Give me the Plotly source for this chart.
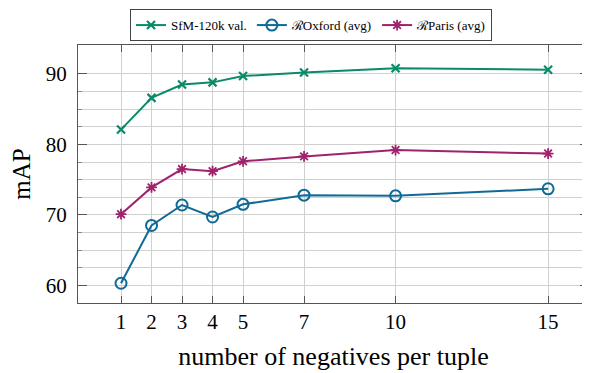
import plotly.graph_objects as go

negatives = [1, 2, 3, 4, 5, 7, 10, 15]
sfm_val = [82.1, 86.6, 88.5, 88.8, 89.7, 90.2, 90.8, 90.6]
oxford_avg = [60.3, 68.5, 71.4, 69.7, 71.5, 72.8, 72.7, 73.7]
paris_avg = [70.1, 73.9, 76.5, 76.2, 77.6, 78.3, 79.2, 78.7]

series_names = ["SfM-120k val.", "\u211bOxford (avg)", "\u211bParis (avg)"]
y_major = [60, 70, 80, 90]
y_minor = [57.5, 62.5, 65, 67.5, 72.5, 75, 77.5, 82.5, 85, 87.5]

green = "#0a8a6a"
blue = "#0f6a96"
magenta = "#a0226c"
serif = "Liberation Serif"

fig = go.Figure()
fig.add_trace(go.Scatter(x=negatives, y=sfm_val, name=series_names[0], mode="lines+markers",
                         line=dict(color=green, width=2),
                         marker=dict(symbol="x-thin-open", size=8, line=dict(color=green, width=2.2))))
fig.add_trace(go.Scatter(x=negatives, y=oxford_avg, name=series_names[1], mode="lines+markers",
                         line=dict(color=blue, width=2),
                         marker=dict(symbol="circle-open", size=11, line=dict(color=blue, width=2))))
fig.add_trace(go.Scatter(x=negatives, y=paris_avg, name=series_names[2], mode="lines+markers",
                         line=dict(color=magenta, width=2),
                         marker=dict(symbol="asterisk-open", size=9, line=dict(color=magenta, width=1.8))))

grid_c = "#d0d0d0"
axis_c = "#555555"
fig.update_layout(
    width=590, height=373,
    margin=dict(l=70, r=9, t=37, b=78, autoexpand=False),
    paper_bgcolor="white", plot_bgcolor="white",
    font=dict(family=serif, color="black"),
    showlegend=True,
    legend=dict(orientation="h", x=0.456, y=0.997, yref="container",
                xanchor="center", yanchor="top",
                font=dict(size=13, family=serif, color="black"),
                bordercolor="#444444", borderwidth=1, bgcolor="white",
                itemwidth=30, tracegroupgap=0),
    xaxis=dict(range=[-0.41, 16.34], tickvals=negatives, ticktext=[str(v) for v in negatives],
               showgrid=True, gridcolor=grid_c, gridwidth=1, automargin=False,
               showline=True, linecolor=axis_c, linewidth=1.3, mirror="ticks",
               ticks="inside", ticklen=7, tickcolor=axis_c, tickwidth=1,
               tickfont=dict(size=21, family=serif, color="black"), zeroline=False,
               title=dict(text="number of negatives per tuple",
                          font=dict(size=26, family=serif, color="black"), standoff=13)),
    yaxis=dict(range=[57.5, 94.1], tickvals=y_major, ticktext=[str(v) for v in y_major],
               showgrid=True, gridcolor=grid_c, gridwidth=1, automargin=False,
               showline=True, linecolor=axis_c, linewidth=1.3, mirror="ticks",
               ticks="inside", ticklen=9, tickcolor=axis_c, tickwidth=1,
               ticklabelstandoff=6,
               tickfont=dict(size=21, family=serif, color="black"), zeroline=False,
               minor=dict(tickmode="array", tickvals=y_minor, showgrid=True, gridcolor=grid_c,
                          ticks="inside", ticklen=4, tickcolor="#888888"),
               title=dict(text="mAP", font=dict(size=25, family=serif, color="black"), standoff=9)),
)

fig.write_html("out.html")
